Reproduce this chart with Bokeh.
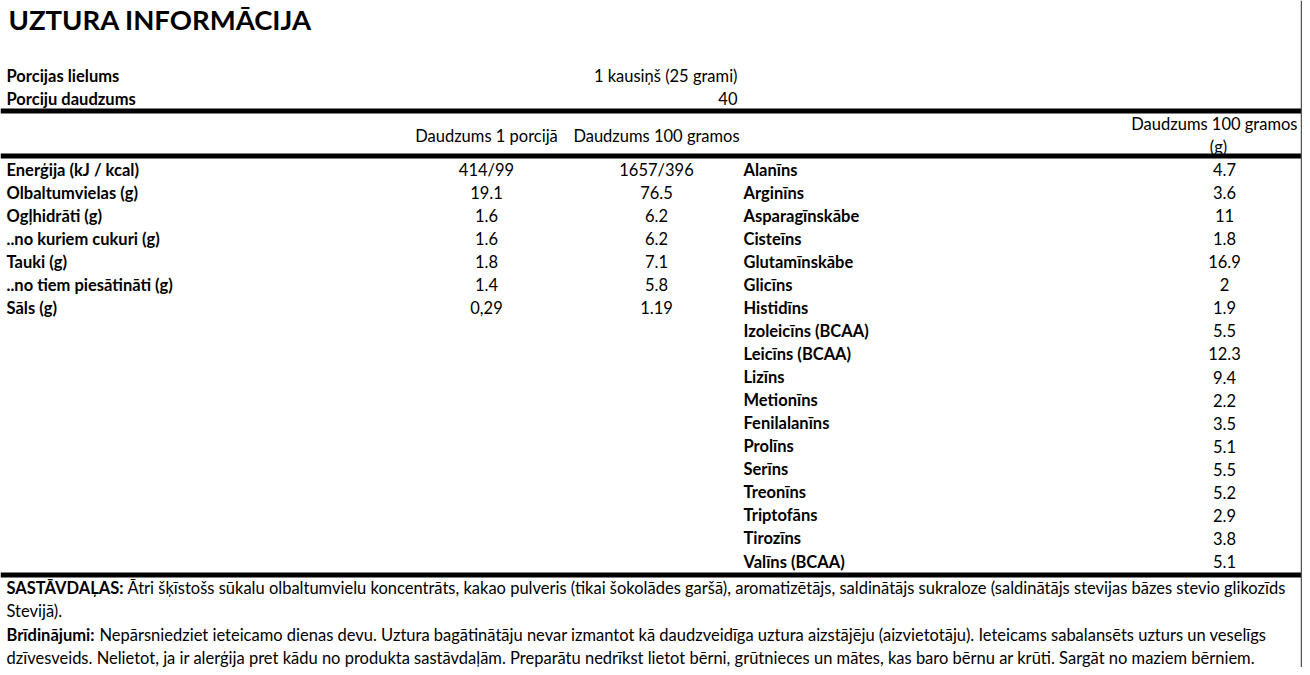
from bokeh.plotting import figure
from bokeh.models import Range1d, ColumnDataSource
from bokeh.core.properties import value
from bokeh.embed import file_html
from bokeh.resources import INLINE

# ---------------- data ----------------
title = "UZTURA INFORMĀCIJA"
serving_labels = ["Porcijas lielums", "Porciju daudzums"]
serving_values = ["1 kausiņš (25 grami)", "40"]

col_headers = ["Daudzums 1 porcijā", "Daudzums 100 gramos"]
amino_header = ["Daudzums 100 gramos", "(g)"]

nutrients = ["Enerģija (kJ / kcal)", "Olbaltumvielas (g)", "Ogļhidrāti (g)",
             "..no kuriem cukuri (g)", "Tauki (g)", "..no tiem piesātināti (g)", "Sāls (g)"]
per_serving = ["414/99", "19.1", "1.6", "1.6", "1.8", "1.4", "0,29"]
per_100g = ["1657/396", "76.5", "6.2", "6.2", "7.1", "5.8", "1.19"]

amino_acids = ["Alanīns", "Arginīns", "Asparagīnskābe", "Cisteīns", "Glutamīnskābe",
               "Glicīns", "Histidīns", "Izoleicīns (BCAA)", "Leicīns (BCAA)", "Lizīns",
               "Metionīns", "Fenilalanīns", "Prolīns", "Serīns", "Treonīns",
               "Triptofāns", "Tirozīns", "Valīns (BCAA)"]
amino_100g = ["4.7", "3.6", "11", "1.8", "16.9", "2", "1.9", "5.5", "12.3", "9.4",
              "2.2", "3.5", "5.1", "5.5", "5.2", "2.9", "3.8", "5.1"]

ingredients_label = "SASTĀVDAĻAS:"
ingredients_lines = [
    "Ātri šķīstošs sūkalu olbaltumvielu koncentrāts, kakao pulveris (tikai šokolādes garšā), aromatizētājs, saldinātājs sukraloze (saldinātājs stevijas bāzes stevio glikozīds",
    "Stevijā).",
]
warning_label = "Brīdinājumi:"
warning_lines = [
    "Nepārsniedziet ieteicamo dienas devu. Uztura bagātinātāju nevar izmantot kā daudzveidīga uztura aizstājēju (aizvietotāju). Ieteicams sabalansēts uzturs un veselīgs",
    "dzīvesveids. Nelietot, ja ir alerģija pret kādu no produkta sastāvdaļām. Preparātu nedrīkst lietot bērni, grūtnieces un mātes, kas baro bērnu ar krūti. Sargāt no maziem bērniem.",
]

# ---------------- layout ----------------
FONT = value("Lato")
FS = "16.5px"
W, H = 1302, 667
p = figure(width=W, height=H, x_range=Range1d(0, W), y_range=Range1d(H, 0),
           output_backend="svg", toolbar_location=None, min_border=0)
p.axis.visible = False
p.grid.visible = False
p.outline_line_color = None
p.background_fill_color = "white"

def txt(xs, ys, texts, align="left", bold=False, size=FS):
    src = ColumnDataSource(dict(x=xs, y=ys, t=texts))
    p.text(x="x", y="y", text="t", source=src, text_font=FONT, text_font_size=size,
           text_font_style="bold" if bold else "normal", text_align=align,
           text_baseline="middle", text_color="black")

LEFT = 6
# title
txt([8], [19], [title], bold=True, size="27.5px")

# serving info
serv_y = [75 + i * 23 for i in range(len(serving_labels))]
txt([LEFT] * len(serving_labels), serv_y, serving_labels, bold=True)
txt([737] * len(serving_values), serv_y, serving_values, align="right")

# thick rules
rule_y = [110.5, 155.5, 574.5]
for ry in rule_y:
    p.segment(x0=[0], y0=[ry], x1=[1301], y1=[ry], line_color="black", line_width=5)
# right border
p.segment(x0=[1301], y0=[0], x1=[1301], y1=[H], line_color="#555555", line_width=1.5)

# headers
C1, C2, C3 = 486, 656, 1224
txt([C1, C2], [135, 135], col_headers, align="center")
txt([1297], [123], [amino_header[0]], align="right")
txt([C3 - 6], [146], [amino_header[1]], align="center")

# rows
Y0, DY = 169, 23.06
ny = [Y0 + i * DY for i in range(len(nutrients))]
txt([LEFT] * len(nutrients), ny, nutrients, bold=True)
txt([C1] * len(per_serving), ny, per_serving, align="center")
txt([C2] * len(per_100g), ny, per_100g, align="center")

ay = [Y0 + i * DY for i in range(len(amino_acids))]
txt([743] * len(amino_acids), ay, amino_acids, bold=True)
txt([C3] * len(amino_100g), ay, amino_100g, align="center")

# footer paragraphs
txt([LEFT], [587], [ingredients_label], bold=True)
txt([127, LEFT], [587, 610], ingredients_lines)
txt([LEFT], [634], [warning_label], bold=True)
txt([99, LEFT], [634, 657], warning_lines)

open("out.html", "w").write(file_html(p, INLINE))
